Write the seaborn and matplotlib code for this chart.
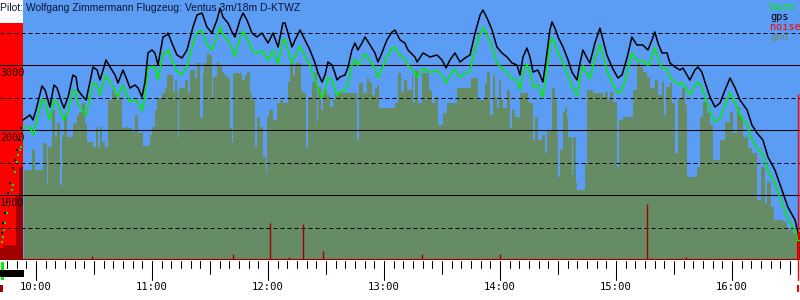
import matplotlib
matplotlib.use("Agg")
import matplotlib.pyplot as plt
import seaborn as sns
from matplotlib.patches import Rectangle

sns.set_style("white")
plt.rcParams["font.family"] = ["DejaVu Sans"]

title = "Pilot: Wolfgang Zimmermann Flugzeug: Ventus 3m/18m D-KTWZ"
hour_ticks = [0, 60, 120, 180, 240, 300, 360]          # minutes after 10:00
hour_labels = ["10:00", "11:00", "12:00", "13:00", "14:00", "15:00", "16:00"]
grid_major = [1000, 2000, 3000]
grid_minor = [500, 1500, 2500, 3500]
legend_labels = ["baro", "gps", "noise", "gnd"]

# flight track (minutes after 10:00, metres)
gps_t = [-6.7, -3.1, -1.6, 0.0, 3.1, 4.7, 6.2, 7.2, 9.3, 10.9,
         13.4, 14.5, 16.6, 19.1, 20.7, 21.7, 23.6, 25.9, 27.9, 29.5,
         31.6, 33.1, 34.7, 36.2, 38.3, 40.9, 42.4, 45.0, 47.1, 48.6,
         51.2, 52.8, 54.8, 56.4, 57.9, 60.0, 61.5, 63.1, 65.7, 67.8,
         68.3, 70.3, 72.9, 75.5, 78.1, 81.2, 83.3, 85.9, 88.4, 91.0,
         93.6, 95.2, 96.7, 99.3, 101.4, 102.9, 105.5, 107.1, 109.1, 111.7,
         114.3, 116.9, 120.0, 122.6, 125.2, 127.7, 128.8, 130.3, 132.4, 134.0,
         136.6, 139.1, 141.7, 144.3, 145.9, 147.9, 149.5, 151.0, 153.1, 154.6,
         155.7, 157.2, 159.8, 161.4, 163.4, 165.0, 166.5, 168.6, 170.2, 172.8,
         175.3, 176.9, 178.9, 181.5, 184.1, 185.7, 188.3, 190.8, 192.4, 196.0,
         197.1, 200.2, 203.8, 207.4, 210.0, 212.1, 214.1, 216.7, 219.3, 221.9,
         224.5, 227.1, 229.7, 231.2, 233.3, 235.9, 238.4, 241.0, 243.6, 246.2,
         248.8, 250.3, 251.9, 253.9, 255.5, 257.1, 259.6, 262.2, 264.3, 265.8,
         266.9, 268.4, 270.0, 272.6, 275.2, 277.2, 279.8, 281.4, 282.9, 285.0,
         286.5, 289.1, 291.7, 293.3, 295.3, 297.9, 301.0, 303.1, 305.7, 308.2,
         310.8, 313.9, 316.5, 318.6, 320.1, 321.7, 323.8, 326.4, 327.9, 330.5,
         333.1, 334.6, 338.2, 340.8, 342.4, 344.4, 346.0, 348.6, 351.2, 353.8,
         356.4, 359.0, 361.6, 364.1, 367.8, 370.3, 372.9, 376.0, 378.6, 382.2,
         385.8, 388.9, 392.6, 394.1]
gps_alt = [2154, 2231, 2154, 2308, 2677, 2615, 2462, 2354, 2692, 2646,
           2415, 2338, 2508, 2846, 2815, 2615, 2538, 2462, 2738, 2969,
           2923, 2769, 2923, 3077, 2969, 2846, 2723, 2923, 2769, 2646,
           2692, 2646, 2508, 2738, 3185, 3231, 3185, 3000, 3431, 3462,
           3492, 3338, 3154, 3108, 3231, 3585, 3769, 3800, 3585, 3492,
           3692, 3877, 3738, 3646, 3508, 3431, 3692, 3800, 3692, 3492,
           3431, 3492, 3338, 3492, 3277, 3646, 3646, 3492, 3277, 3385,
           3538, 3385, 3231, 3031, 2877, 2738, 2846, 3046, 3000, 2877,
           2769, 2815, 2846, 2969, 3231, 3338, 3231, 3338, 3431, 3308,
           3185, 3046, 3185, 3385, 3508, 3538, 3385, 3338, 3231, 3123,
           3046, 3185, 3123, 3154, 3077, 2954, 3077, 3185, 3046, 3108,
           3154, 3492, 3769, 3846, 3723, 3538, 3277, 3185, 3123, 3031,
           3000, 2846, 3123, 3262, 3123, 2892, 2923, 2738, 3185, 3538,
           3662, 3569, 3431, 3277, 3077, 2892, 2769, 3031, 3231, 3108,
           3031, 3338, 3569, 3385, 3154, 2969, 2800, 2846, 3108, 3431,
           3308, 3308, 3231, 3385, 3508, 3338, 3185, 3185, 3031, 2969,
           2923, 2954, 2769, 2923, 2969, 2892, 2738, 2508, 2354, 2415,
           2615, 2800, 2646, 2462, 2308, 2077, 1954, 1846, 1585, 1385,
           1077, 815, 615, 431]
baro_alt = [2030, 2040, 1920, 2090, 2477, 2430, 2231, 2154, 2462, 2430,
            2231, 2154, 2300, 2615, 2590, 2400, 2320, 2231, 2500, 2723,
            2700, 2540, 2700, 2846, 2740, 2615, 2508, 2690, 2540, 2440,
            2460, 2430, 2290, 2510, 2950, 2980, 2960, 2770, 3180, 3200,
            3240, 3080, 2900, 2850, 2980, 3320, 3500, 3530, 3320, 3230,
            3430, 3590, 3470, 3380, 3250, 3130, 3420, 3520, 3420, 3230,
            3180, 3220, 3070, 3230, 3010, 3380, 3400, 3240, 3030, 3140,
            3290, 3140, 2990, 2790, 2640, 2500, 2610, 2810, 2760, 2640,
            2530, 2580, 2610, 2730, 2990, 3090, 2990, 3090, 3180, 3060,
            2950, 2800, 2940, 3130, 3250, 3280, 3140, 3100, 2990, 2890,
            2810, 2950, 2890, 2910, 2840, 2720, 2840, 2940, 2810, 2870,
            2910, 3240, 3480, 3580, 3460, 3290, 3030, 2950, 2880, 2790,
            2760, 2610, 2880, 3010, 2880, 2660, 2690, 2510, 2940, 3290,
            3420, 3330, 3190, 3040, 2840, 2660, 2530, 2790, 2990, 2870,
            2790, 3100, 3320, 3140, 2910, 2730, 2560, 2610, 2870, 3190,
            3070, 3070, 2990, 3140, 3270, 3100, 2950, 2950, 2800, 2740,
            2700, 2730, 2540, 2690, 2740, 2660, 2510, 2280, 2120, 2180,
            2380, 2570, 2420, 2230, 2080, 1850, 1730, 1620, 1380, 1180,
            880, 640, 460, 310]

# aerotow climb (sparse fixes)
tow_gps_t = [-17.6, -17.1, -16.0, -15.0, -14.5, -13.4, -11.9, -10.9, -9.8, -8.8, -7.8]
tow_gps_alt = [415, 569, 723, 892, 1031, 1185, 1415, 1538, 1692, 1846, 2031]
tow_baro_t = [-17.6, -17.1, -16.6, -16.0, -15.0, -14.5, -12.4, -11.9, -10.9, -9.8, -9.3, -8.3, -7.8, -7.2]
tow_baro_alt = [277, 354, 462, 569, 723, 846, 1077, 1154, 1354, 1508, 1615, 1692, 1738, 1846]

# terrain below the track
gnd_t = [-6.2, -2.25, -0.5, 3.8, 5.5, 6.4, 8.4, 9.8, 11.0, 12.4,
         13.3, 14.5, 15.9, 19.3, 21.0, 22.4, 23.6, 25.3, 26.2, 29.7,
         31.0, 32.2, 33.1, 34.0, 35.7, 37.4, 39.1, 40.3, 41.7, 42.9,
         44.3, 46.0, 47.7, 49.5, 51.2, 52.9, 54.6, 55.5, 58.9, 59.8,
         61.5, 62.8, 65.0, 66.7, 67.9, 70.7, 71.9, 72.8, 73.4, 73.8,
         77.1, 78.8, 79.6, 82.2, 83.4, 84.8, 86.2, 86.9, 88.3, 89.6,
         90.9, 91.7, 93.4, 94.6, 96.0, 97.2, 98.9, 100.3, 101.2, 102.1,
         106.4, 108.1, 109.0, 110.7, 111.5, 113.3, 114.1, 115.9, 117.6, 119.0,
         119.6, 120.7, 122.8, 124.5, 126.2, 127.9, 130.5, 131.4, 133.1, 134.0,
         136.9, 138.3, 139.6, 140.5, 142.6, 144.3, 145.2, 146.0, 147.2, 148.6,
         150.3, 152.1, 153.4, 154.6, 166.2, 166.9, 169.3, 171.0, 172.4, 173.6,
         175.3, 176.2, 177.6, 185.7, 187.4, 188.6, 190.3, 191.7, 194.3, 195.1,
         196.0, 197.7, 199.4, 203.4, 204.6, 206.3, 208.1, 210.6, 212.4, 217.5,
         224.8, 228.7, 232.2, 233.4, 234.8, 236.2, 237.4, 238.6, 239.6, 240.3,
         241.7, 243.4, 245.1, 246.0, 247.7, 250.3, 254.6, 255.5, 257.2, 258.1,
         259.8, 261.5, 263.3, 264.2, 266.7, 268.5, 269.3, 270.2, 271.0, 272.4,
         273.6, 274.5, 275.4, 277.1, 278.0, 279.3, 280.0, 284.0, 284.8, 288.3,
         293.5, 294.3, 296.0, 296.9, 298.6, 300.7, 301.7, 303.8, 309.0, 310.7,
         312.4, 314.1, 315.9, 317.6, 320.2, 321.9, 323.6, 324.8, 325.9, 327.9,
         328.8, 330.5, 332.2, 333.9, 335.7, 336.9, 341.7, 343.4, 345.1, 346.9,
         348.6, 350.3, 353.8, 356.3, 358.9, 360.7, 362.4, 364.1, 365.8, 368.4,
         370.1, 373.1, 374.8, 377.0, 378.2, 380.0, 381.7, 386.5, 388.2, 390.0,
         391.7, 395.2]
gnd_alt = [1385, 1692, 1385, 1795, 1154, 1744, 2308, 1897, 2103, 1154,
           1923, 2231, 1897, 2103, 2231, 2282, 2410, 2103, 1821, 1744,
           2051, 1744, 2051, 1821, 1744, 2462, 2615, 2538, 2462, 2513,
           2026, 2051, 2026, 1974, 2231, 1949, 1974, 1754, 1923, 2051,
           2308, 2487, 2564, 2641, 2846, 2590, 2769, 2590, 1897, 2641,
           2769, 2564, 2923, 2795, 3026, 2179, 2872, 3026, 3180, 3154,
           2462, 2821, 3051, 3000, 2897, 2846, 2795, 2026, 1795, 2872,
           2769, 2846, 2897, 2564, 2462, 1744, 2205, 2051, 1590, 1333,
           2205, 2308, 2154, 2410, 2462, 2410, 2744, 3026, 2846, 3026,
           2615, 2564, 1744, 2513, 2744, 2897, 2128, 2667, 2308, 2615,
           2538, 2359, 2462, 2564, 1846, 2718, 2564, 2795, 2744, 2538,
           2641, 2692, 2333, 2410, 2872, 2590, 2769, 2615, 2846, 2410,
           2923, 2410, 2872, 2615, 2410, 2513, 2077, 2256, 2410, 2641,
           2795, 2462, 2718, 2897, 2231, 2846, 2513, 2333, 2769, 2462,
           2333, 2615, 2026, 2308, 2205, 2564, 2436, 2410, 1846, 2205,
           1846, 1923, 1641, 2000, 2641, 2462, 1949, 1282, 1692, 2282,
           2359, 2179, 1897, 1308, 1897, 1179, 1077, 1487, 2615, 2564,
           2513, 2590, 2462, 2590, 2436, 1436, 2154, 2205, 2615, 3026,
           2974, 2897, 2821, 2641, 2769, 2538, 2744, 2231, 2667, 2718,
           2410, 1641, 2487, 2641, 2385, 1282, 1436, 2205, 2436, 2256,
           2077, 1538, 1846, 2128, 2282, 1949, 2359, 2205, 1897, 1718,
           1641, 923, 1436, 872, 1205, 821, 615, 590, 462, 513,
           410, 410]

# engine / noise channel (scaled to chart units)
engine_t = [-18.62, -6.5]
engine_lvl = [3646, 3646]
roll_t = [-18.62, -17.1, -10.3, -8.8, -6.5]
roll_lvl = [185, 231, 1000, 1430, 1430]
noise_t = [-3.1, 29.0, 101.9, 121.0, 130.9, 138.1, 148.4, 171.2, 199.6, 240.0, 316.0, 336.2]
noise_lvl = [15, 60, 90, 570, 45, 555, 140, 15, 90, 90, 860, 45]
landing_t = [393.6, 395.2]
landing_lvl = [431, 431]
marker_t = 394.1
marker_top = 2554

BLUE = "#5b9cf4"
GND = "#668c66"
GREEN = "#00f000"
DRED = "#a00000"

XMIN, XMAX = -18.62, 395.17
fig = plt.figure(figsize=(8, 3), dpi=100)
fig.patch.set_facecolor("white")
ax = fig.add_axes([0, 40 / 300, 1, 260 / 300])
ax.set_facecolor("white")

# sky background from release onwards
ax.axvspan(engine_t[-1], XMAX, color=BLUE, zorder=0, lw=0)

# engine noise block and ground roll
ax.fill_between(engine_t, 0, engine_lvl, color="#ff0000", lw=0, zorder=1)
ax.fill_between(roll_t, 0, roll_lvl, step="post", color=DRED, lw=0, zorder=1.2)

# terrain
ax.fill_between(gnd_t, 0, gnd_alt, step="post", color=GND, lw=0, zorder=1)

# grid
for v in grid_major:
    ax.axhline(v, color="black", lw=0.75, zorder=3)
for v in grid_minor:
    ax.axhline(v, color="black", lw=0.72, ls=(0, (4, 3)), zorder=3)

# noise spikes & baseline
ax.vlines(noise_t, 0, noise_lvl, color=DRED, lw=1.0, zorder=4)
ax.axhline(0, color=DRED, lw=1.6, zorder=4)
ax.fill_between(landing_t, 0, landing_lvl, color=DRED, lw=0, zorder=4)

# tracks
sns.lineplot(x=gps_t, y=baro_alt, ax=ax, color=GREEN, lw=1.1,
             estimator=None, sort=False, zorder=5, legend=False)
sns.lineplot(x=gps_t, y=gps_alt, ax=ax, color="black", lw=1.1,
             estimator=None, sort=False, zorder=6, legend=False)
sns.scatterplot(x=tow_baro_t, y=tow_baro_alt, ax=ax, color=GREEN, s=2.5,
                marker="s", linewidth=0, zorder=5, legend=False)
sns.scatterplot(x=tow_gps_t, y=tow_gps_alt, ax=ax, color="black", s=2.5,
                marker="s", linewidth=0, zorder=5, legend=False)

# end-of-flight marker
ax.vlines([marker_t], 0, marker_top, color="#ff0000", lw=1.0, zorder=7)
ax.plot([marker_t, marker_t], [0, -0.078], color="#ff0000", lw=1.0,
        transform=ax.get_xaxis_transform(), clip_on=False, zorder=7)
ax.plot([marker_t - 0.9, marker_t + 0.9], [landing_lvl[0] - 120] * 2, color=GREEN, lw=1, zorder=7)

ax.set_xlim(XMIN, XMAX)
ax.set_ylim(0, 4000)
for s in ax.spines.values():
    s.set_visible(False)
ax.set_xticks([])
ax.set_yticks([])
ax.set_xlabel("")
ax.set_ylabel("")

mono = "DejaVu Sans Mono"
# y labels
for v in grid_major:
    ax.annotate(str(v), xy=(0.0, v), xycoords=("axes fraction", "data"),
                xytext=(0, -2), textcoords="offset points", ha="left", va="top",
                fontsize=7.3, family=mono, color="#200000", zorder=8)

# time axis ticks (5-min minor, 30-min medium, hourly major)
xt = ax.get_xaxis_transform()
m = -15
while m <= XMAX:
    if m % 60 == 0:
        L = 19
    elif m % 30 == 0:
        L = 13
    else:
        L = 7
    ax.plot([m, m], [-1 / 260, -(1 + L) / 260], color="black", lw=0.75,
            transform=xt, clip_on=False)
    m += 5
for t, lbl in zip(hour_ticks, hour_labels):
    ax.text(t, -27 / 260, lbl, transform=xt, ha="center", va="center",
            fontsize=7.6, family=mono, color="black")

# title
ax.text(0.0, 1 - 8 / 260, title, transform=ax.transAxes, ha="left", va="center",
        fontsize=7.5, family="Liberation Sans", color="#0c1430", zorder=9)

# legend
for i, (lbl, c) in enumerate(zip(legend_labels, [GREEN, "black", "#ff0000", "#6e8c6e"])):
    ax.text(770 / 800, 1 - (7 + 10 * i) / 260, lbl, transform=ax.transAxes,
            ha="left", va="center", fontsize=7.4, family=mono, color=c, zorder=9)

# small markers below the axis
def frect(x0, y0, x1, y1, c):
    fig.patches.append(Rectangle((x0 / 800, 1 - y1 / 300), (x1 - x0) / 800,
                                 (y1 - y0) / 300, transform=fig.transFigure,
                                 color=c, lw=0, zorder=10))

frect(1, 262, 4, 280, GREEN)
frect(0, 270, 24, 277, "black")
frect(0, 285, 3, 292, DRED)
frect(797, 285, 799, 292, "#ff0000")

fig.savefig("out.png", dpi=100)
